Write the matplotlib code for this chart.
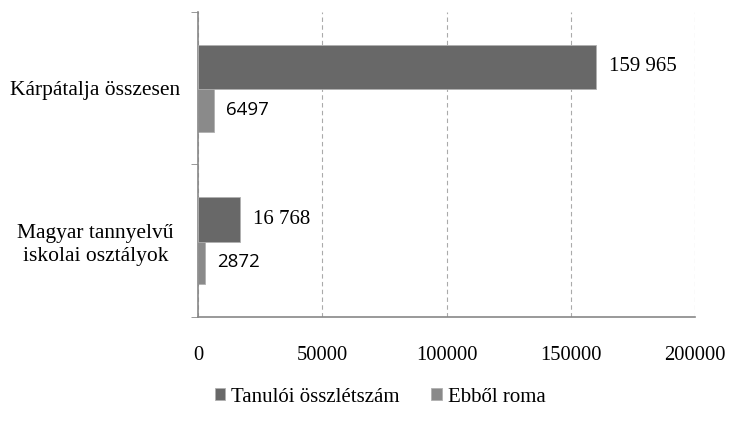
import matplotlib.pyplot as plt
import numpy as np

categories = ['Magyar tannyelvű\niskolai osztályok', 'Kárpátalja összesen']
total = [16768, 159965]
roma = [2872, 6497]
total_labels = ['16 768', '159 965']
roma_labels = ['2872', '6497']
series_names = ['Tanulói összlétszám', 'Ebből roma']

serif = 'Liberation Serif'
sans = 'Open Sans'

fig = plt.figure(figsize=(7.31, 4.34), dpi=100)
ax = fig.add_axes([0.271, 0.270, 0.680, 0.702])

y = np.arange(len(categories))
h = 0.295
off = 0.14

b1 = ax.barh(y + off, total, height=h, color='#686868', edgecolor='#b0b0b0', linewidth=0.6,
             label=series_names[0], zorder=3)
b2 = ax.barh(y - off, roma, height=h, color='#8a8a8a', edgecolor='#b0b0b0', linewidth=0.6,
             label=series_names[1], zorder=2)

for rect, txt in zip(b1, total_labels):
    ax.text(rect.get_width() + 5400, rect.get_y() + rect.get_height() / 2, txt,
            va='center', ha='left', fontsize=15, family=serif)
for rect, txt in zip(b2, roma_labels):
    ax.text(rect.get_width() + 4800, rect.get_y() + rect.get_height() / 2, txt,
            va='center', ha='left', fontsize=13.5, family=sans)

ax.set_xlim(0, 200000)
ax.set_ylim(-0.5, 1.5)
ax.set_xticks([0, 50000, 100000, 150000, 200000])
ax.set_xticklabels(['0', '50000', '100000', '150000', '200000'], family=serif, fontsize=14.8)
ax.tick_params(axis='x', length=0, pad=21)

ax.set_yticks(y)
ax.set_yticklabels(categories, family=serif, fontsize=15.5, ha='center', linespacing=1.3)
ax.tick_params(axis='y', length=0, pad=74)
ax.set_yticks([-0.5, 0.5, 1.5], minor=True)
ax.tick_params(axis='y', which='minor', length=5, color='#888888')

ax.grid(axis='x', linestyle=(0, (4, 3)), color='#aaaaaa', linewidth=0.8, zorder=0)
for s in ['top', 'right']:
    ax.spines[s].set_visible(False)
for s in ['left', 'bottom']:
    ax.spines[s].set_color('#888888')
    ax.spines[s].set_linewidth(1.2)

fig.legend(handles=[b1, b2], labels=series_names, loc='center', bbox_to_anchor=(0.52, 0.085),
           ncol=2, frameon=False, prop={'family': serif, 'size': 15},
           handlelength=0.5, handleheight=0.5, handletextpad=0.3, columnspacing=1.5)

fig.savefig('out.png', dpi=100)
